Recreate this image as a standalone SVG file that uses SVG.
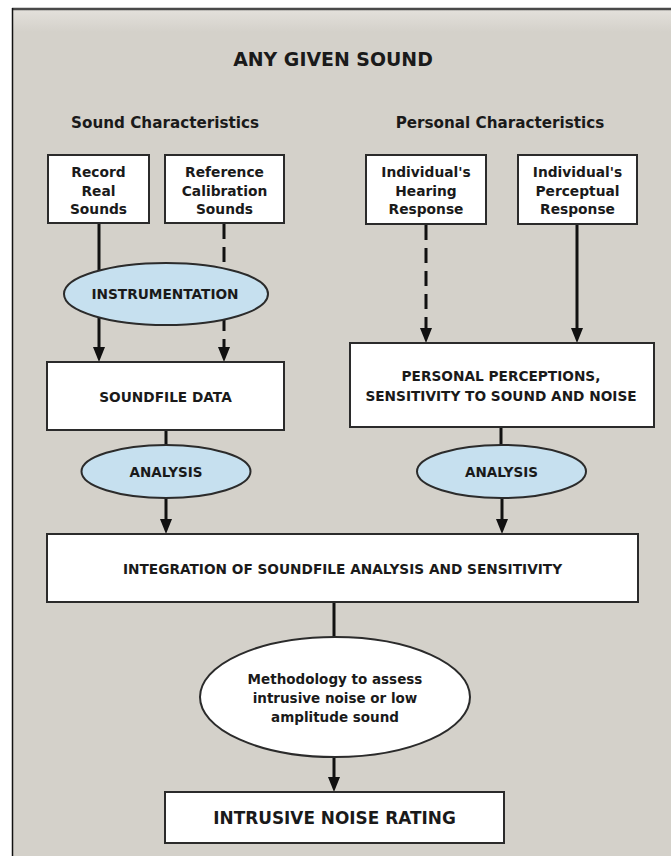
<svg xmlns="http://www.w3.org/2000/svg" width="671" height="856" viewBox="0 0 671 856">
<style>
.t{font-family:"DejaVu Sans","Liberation Sans",sans-serif;font-weight:bold;fill:#1a1a1a;text-anchor:middle}
.box{fill:#ffffff;stroke:#2b2b2b;stroke-width:2}
.ell{fill:#c6e0ef;stroke:#2b2b2b;stroke-width:2}
.ellw{fill:#ffffff;stroke:#2b2b2b;stroke-width:2}
.ln{stroke:#111;stroke-width:3;fill:none}
.dash{stroke-dasharray:15 8}
.arr{marker-end:url(#ah)}
</style>
<defs>
<marker id="ah" markerUnits="userSpaceOnUse" markerWidth="15" markerHeight="12" refX="5" refY="6" orient="auto">
<path d="M0,0 L15,6 L0,12 z" fill="#111"/>
</marker>
<linearGradient id="topg" x1="0" y1="0" x2="0" y2="1">
<stop offset="0" stop-color="#e3e0db"/>
<stop offset="1" stop-color="#d4d1ca"/>
</linearGradient>
</defs>
<rect x="0" y="0" width="671" height="856" fill="#ffffff"/>
<rect x="12" y="9" width="659" height="847" fill="#d4d1ca"/>
<rect x="13" y="10" width="658" height="22" fill="url(#topg)"/>
<line x1="12" y1="9" x2="671" y2="9" stroke="#4a4a4a" stroke-width="2.5"/>
<line x1="12.5" y1="8" x2="12.5" y2="856" stroke="#111" stroke-width="1.5"/>

<g id="headers">
<text class="t" x="333" y="65.5" font-size="18.9">ANY GIVEN SOUND</text>
<text class="t" x="165" y="127.5" font-size="15.2">Sound Characteristics</text>
<text class="t" x="500" y="127.5" font-size="15.2">Personal Characteristics</text>
</g>

<g id="connectors">
<line class="ln arr" x1="99" y1="223" x2="99" y2="352"/>
<line class="ln dash arr" x1="224" y1="224" x2="224" y2="352"/>
<line class="ln dash arr" x1="426" y1="225" x2="426" y2="333"/>
<line class="ln arr" x1="577" y1="224" x2="577" y2="333"/>
<line class="ln" x1="166" y1="430" x2="166" y2="446"/>
<line class="ln" x1="501" y1="427" x2="501" y2="446"/>
<line class="ln arr" x1="166" y1="497" x2="166" y2="524"/>
<line class="ln arr" x1="502" y1="497" x2="502" y2="524"/>
<line class="ln" x1="334" y1="603" x2="334" y2="638"/>
<line class="ln arr" x1="334" y1="757" x2="334" y2="782"/>
</g>

<g id="record">
<rect class="box" x="48" y="155" width="101" height="68"/>
<text class="t" x="98.5" y="177" font-size="13.8">Record</text>
<text class="t" x="98.5" y="196" font-size="13.8">Real</text>
<text class="t" x="98.5" y="214" font-size="13.8">Sounds</text>
</g>
<g id="reference">
<rect class="box" x="165" y="155" width="119" height="68"/>
<text class="t" x="224.5" y="177" font-size="13.8">Reference</text>
<text class="t" x="224.5" y="196" font-size="13.8">Calibration</text>
<text class="t" x="224.5" y="214" font-size="13.8">Sounds</text>
</g>
<g id="hearing">
<rect class="box" x="366" y="155" width="120" height="69"/>
<text class="t" x="426" y="177" font-size="13.8">Individual's</text>
<text class="t" x="426" y="196" font-size="13.8">Hearing</text>
<text class="t" x="426" y="214" font-size="13.8">Response</text>
</g>
<g id="perceptual">
<rect class="box" x="518" y="155" width="119" height="69"/>
<text class="t" x="577.5" y="177" font-size="13.8">Individual's</text>
<text class="t" x="577.5" y="196" font-size="13.8">Perceptual</text>
<text class="t" x="577.5" y="214" font-size="13.8">Response</text>
</g>
<g id="instrumentation">
<ellipse class="ell" cx="166" cy="294" rx="102" ry="31"/>
<text class="t" x="165" y="298.5" font-size="13.7">INSTRUMENTATION</text>
</g>
<g id="soundfile">
<rect class="box" x="47" y="362" width="237" height="68"/>
<text class="t" x="165.5" y="402" font-size="13.7">SOUNDFILE DATA</text>
</g>
<g id="personal">
<rect class="box" x="350" y="343" width="304" height="84"/>
<text class="t" x="501" y="380.5" font-size="13.7">PERSONAL PERCEPTIONS,</text>
<text class="t" x="501" y="401" font-size="13.7">SENSITIVITY TO SOUND AND NOISE</text>
</g>
<g id="analysis1">
<ellipse class="ell" cx="166" cy="471.5" rx="84.5" ry="26.5"/>
<text class="t" x="166" y="477" font-size="13.5">ANALYSIS</text>
</g>
<g id="analysis2">
<ellipse class="ell" cx="501.5" cy="471.5" rx="84.5" ry="26.5"/>
<text class="t" x="501.5" y="477" font-size="13.5">ANALYSIS</text>
</g>
<g id="integration">
<rect class="box" x="47" y="534" width="591" height="68"/>
<text class="t" x="342.5" y="573.5" font-size="13.7">INTEGRATION OF SOUNDFILE ANALYSIS AND SENSITIVITY</text>
</g>
<g id="methodology">
<ellipse class="ellw" cx="335" cy="697" rx="135" ry="60"/>
<text class="t" x="335" y="684" font-size="13.5">Methodology to assess</text>
<text class="t" x="335" y="703" font-size="13.5">intrusive noise or low</text>
<text class="t" x="335" y="722" font-size="13.5">amplitude sound</text>
</g>
<g id="rating">
<rect class="box" x="165" y="792" width="339" height="51"/>
<text class="t" x="334.5" y="824" font-size="16.9">INTRUSIVE NOISE RATING</text>
</g>
</svg>
